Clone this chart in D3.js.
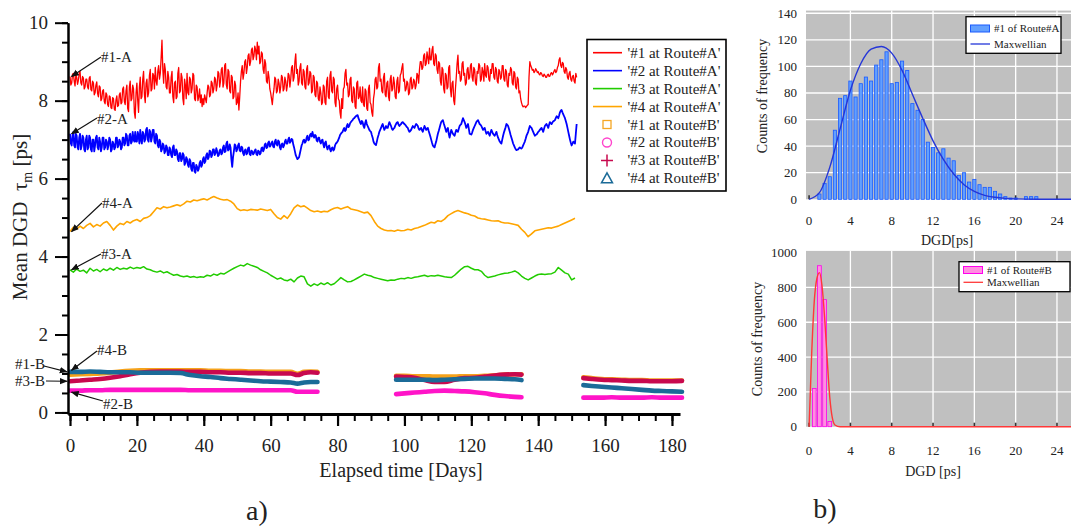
<!DOCTYPE html>
<html><head><meta charset="utf-8">
<script src="https://cdn.jsdelivr.net/npm/d3@7"></script>
<style>
body{margin:0;background:#fff}
svg{display:block}
text{font-family:"Liberation Serif","Times New Roman",serif;fill:#222}
</style>
</head><body><svg id="c" width="1071" height="529"></svg>
<script>
// ---------- Panel a) data : Route A (continuous, day 0 .. 151.5) ----------
const stepFine = 0.25;  // red & blue sampled every quarter day
const stepCoarse = 1;   // green & orange sampled every day
const route1A = [
8.62,8.40,8.45,8.68,8.70,8.50,8.38,8.65,8.60,8.42,8.52,8.70,8.75,8.45,8.40,8.62,8.58,8.30,8.35,8.55,
8.55,8.35,8.30,8.58,8.62,8.28,8.25,8.50,8.45,8.15,8.20,8.40,8.48,8.18,8.10,8.38,8.35,8.00,8.05,8.25,
8.28,7.98,7.92,8.20,8.15,7.90,7.85,8.12,8.10,7.82,7.80,8.08,8.05,7.78,7.75,8.02,8.12,7.85,7.88,8.15,
8.20,7.92,7.95,8.30,8.35,7.98,7.90,8.25,8.40,7.80,7.72,8.35,8.50,8.00,8.05,8.40,8.30,7.70,7.55,8.20,
8.45,8.00,7.70,8.35,8.60,8.05,8.10,8.55,8.75,8.15,7.95,8.45,8.55,8.10,8.20,8.65,8.80,8.25,8.30,8.70,
8.65,8.30,8.85,8.50,8.40,8.75,8.90,8.55,8.70,9.10,9.55,8.80,8.45,8.95,8.80,8.35,8.30,8.75,8.60,8.20,
8.20,8.60,8.75,8.10,7.95,8.45,8.50,8.05,8.10,8.70,8.85,8.20,8.25,8.70,8.60,8.05,7.90,8.55,8.40,8.05,
8.70,8.20,8.15,8.60,8.55,8.20,8.30,8.70,8.65,8.05,8.00,8.40,8.35,8.00,8.10,8.30,7.95,8.15,7.85,8.05,
7.90,8.15,8.05,7.95,8.20,8.40,8.35,8.10,8.15,8.50,8.45,8.20,8.30,8.60,8.55,8.25,8.40,8.75,8.70,8.35,
8.50,8.80,8.85,8.35,8.45,8.90,8.95,8.40,8.30,8.80,8.75,8.25,8.20,8.65,8.60,8.05,8.10,8.50,8.40,7.90,
7.95,8.20,7.76,8.10,8.50,8.75,8.90,8.55,8.70,9.00,9.05,8.70,8.85,9.15,9.20,8.90,9.00,9.30,9.35,9.05,
9.15,9.40,9.30,9.05,9.50,9.20,9.40,8.95,9.00,9.25,9.20,8.80,8.70,9.05,8.95,8.50,8.45,8.75,8.60,8.30,
8.20,8.05,7.90,8.15,8.30,8.60,8.55,8.20,8.25,8.55,8.45,8.20,8.35,8.65,8.60,8.25,8.30,8.60,8.50,8.25,
8.40,8.70,8.65,8.35,8.55,8.85,8.90,8.50,8.60,9.00,9.20,8.70,8.80,8.40,8.50,8.85,8.95,8.45,8.40,8.80,
8.75,8.35,8.30,8.80,8.90,8.40,8.45,8.75,8.70,8.20,8.25,8.65,8.60,8.15,8.10,8.50,8.45,8.05,8.00,8.35,
8.20,7.90,7.95,8.40,8.35,7.95,7.90,8.50,8.60,8.10,8.05,8.65,8.75,8.25,8.20,8.60,8.55,7.95,7.85,8.30,
8.40,8.05,8.00,7.70,7.55,8.05,7.80,8.30,8.35,8.70,8.80,8.40,8.45,8.10,8.15,8.55,8.60,8.00,7.95,8.35,
8.30,7.85,7.80,8.45,8.50,8.05,8.10,8.35,8.00,7.95,8.35,7.90,7.85,8.30,8.25,7.80,7.75,8.30,8.40,7.95,
7.90,7.70,7.60,8.05,8.20,8.55,8.60,8.30,8.35,8.85,8.95,8.50,8.55,8.25,8.20,8.60,8.70,8.15,8.10,8.45,
8.50,8.10,8.00,8.55,8.65,8.25,8.30,8.60,8.45,8.10,8.05,8.50,8.60,8.20,8.25,8.65,8.70,8.85,8.95,8.50,
8.55,8.25,8.30,8.50,8.45,8.15,8.20,8.55,8.60,8.30,8.35,8.55,8.50,8.30,8.40,8.70,8.65,8.45,8.80,9.00,
9.00,8.80,8.85,9.15,9.20,8.90,8.95,9.25,9.10,8.95,9.35,9.05,9.05,9.30,9.39,8.95,8.90,9.20,9.15,8.80,
8.70,9.00,8.95,8.50,8.40,8.85,8.80,8.30,8.20,8.70,8.65,8.30,8.35,8.85,8.90,8.30,8.10,8.45,8.50,8.00,
7.90,8.30,8.60,8.95,9.17,8.70,8.75,8.50,8.55,8.95,9.00,8.65,8.70,8.40,8.45,8.80,8.85,8.55,8.60,8.90,
8.95,8.60,8.50,8.85,8.80,8.45,8.40,8.75,8.70,8.95,8.90,8.50,8.55,8.85,8.75,8.50,8.95,8.65,8.60,8.90,
8.85,8.55,8.50,8.80,8.70,8.95,8.95,8.60,8.55,8.85,8.80,8.50,8.45,8.80,8.75,8.55,8.60,8.90,8.90,8.55,
8.50,8.80,8.75,8.40,8.35,8.70,8.65,8.85,8.80,8.45,8.40,8.75,8.70,8.35,8.30,8.60,8.55,8.20,8.25,8.05,
7.95,7.88,7.84,7.86,7.86,7.82,7.85,7.88,7.90,8.60,9.00,8.90,8.85,8.78,8.80,8.72,8.75,8.82,8.78,8.72,
8.74,8.68,8.66,8.72,8.70,8.64,8.62,8.68,8.65,8.60,8.60,8.66,8.68,8.62,8.63,8.70,8.72,8.66,8.70,8.76,
8.80,8.72,8.75,8.85,8.90,9.05,9.10,8.90,8.85,8.98,8.95,8.75,8.70,8.85,8.80,8.60,8.55,8.70,8.75,8.55,
8.50,8.62,8.65,8.50,8.45,8.70,8.60];
const route2A = [
7.15,6.90,6.85,7.10,7.20,6.85,6.80,7.15,7.10,6.80,6.75,7.05,7.15,6.75,6.85,7.10,7.05,6.75,6.70,7.00,
7.10,6.75,6.80,7.10,7.05,6.75,6.70,7.00,7.00,6.70,6.85,7.05,7.10,6.80,6.75,7.05,6.95,6.70,6.80,7.05,
7.05,6.75,6.80,7.00,6.95,6.75,6.85,7.05,7.00,6.70,6.75,6.95,6.90,6.75,6.80,7.05,7.05,6.80,6.85,7.00,
6.95,6.75,6.80,7.05,7.05,6.85,6.90,7.15,7.10,6.85,6.85,7.10,7.15,6.90,6.95,7.20,7.00,6.95,7.20,6.95,
6.95,7.20,7.10,6.90,7.25,7.00,6.90,7.20,7.15,6.95,7.00,7.25,7.30,7.00,6.95,7.25,7.20,6.95,7.05,7.25,
7.25,6.95,6.90,7.15,7.10,6.85,6.80,7.00,6.95,6.70,6.75,6.90,6.85,6.65,6.70,6.85,6.80,6.60,6.60,6.80,
6.75,6.60,6.55,6.80,6.85,6.60,6.60,6.75,6.70,6.50,6.45,6.65,6.65,6.45,6.50,6.65,6.60,6.35,6.40,6.55,
6.50,6.35,6.30,6.50,6.45,6.25,6.20,6.40,6.40,6.18,6.15,6.35,6.30,6.20,6.25,6.40,6.45,6.30,6.35,6.50,
6.55,6.40,6.45,6.60,6.65,6.50,6.55,6.72,6.70,6.55,6.60,6.75,6.75,6.60,6.65,6.78,6.70,6.58,6.60,6.72,
6.75,6.62,6.65,6.80,6.85,6.68,6.70,6.90,6.95,6.72,6.75,6.88,6.80,6.50,6.30,6.55,6.70,6.88,6.85,6.70,
6.75,6.85,6.90,6.72,6.70,6.82,6.80,6.65,6.60,6.72,6.75,6.62,6.65,6.78,6.80,6.62,6.60,6.72,6.70,6.62,
6.65,6.72,6.75,6.62,6.60,6.72,6.70,6.62,6.65,6.78,6.80,6.70,6.75,6.88,6.90,6.78,6.80,6.92,6.95,6.82,
6.85,6.92,6.95,6.82,6.80,6.95,7.00,6.88,6.85,6.98,6.95,6.80,6.75,6.88,6.90,6.80,6.85,6.95,7.00,6.90,
6.90,7.00,7.05,6.92,6.95,7.02,7.00,6.88,6.80,6.70,6.60,6.55,6.50,6.52,6.55,6.65,6.75,6.85,6.90,6.98,
7.00,6.92,6.95,7.05,7.10,6.98,7.00,7.12,7.15,7.08,7.20,7.10,7.05,7.12,7.10,6.98,6.95,7.05,7.05,6.95,
6.90,6.98,7.00,6.88,6.80,6.92,6.95,6.82,6.75,6.82,6.85,6.75,6.70,6.78,6.80,6.72,6.75,6.85,6.90,6.92,
6.95,7.00,7.05,7.12,7.15,7.18,7.20,7.26,7.30,7.22,7.25,7.35,7.40,7.32,7.35,7.42,7.45,7.48,7.50,7.54,
7.55,7.58,7.60,7.62,7.63,7.55,7.50,7.44,7.40,7.48,7.45,7.35,7.30,7.42,7.50,7.40,7.35,7.30,7.25,7.22,
7.20,7.12,7.05,6.95,6.90,6.88,6.86,6.95,7.05,7.12,7.20,7.25,7.30,7.36,7.40,7.32,7.25,7.30,7.35,7.30,
7.30,7.38,7.45,7.40,7.35,7.28,7.25,7.28,7.30,7.36,7.40,7.44,7.45,7.38,7.35,7.38,7.40,7.44,7.45,7.42,
7.40,7.38,7.35,7.32,7.30,7.24,7.20,7.22,7.25,7.30,7.35,7.32,7.30,7.36,7.40,7.38,7.35,7.28,7.25,7.28,
7.30,7.24,7.20,7.28,7.35,7.30,7.25,7.28,7.30,7.22,7.15,7.08,7.00,6.92,6.85,6.82,6.80,6.88,6.95,7.05,
7.15,7.22,7.30,7.38,7.45,7.48,7.50,7.42,7.35,7.28,7.20,7.26,7.30,7.15,7.05,7.15,7.25,7.20,7.15,7.12,
7.10,7.18,7.25,7.22,7.20,7.28,7.35,7.38,7.40,7.48,7.55,7.50,7.45,7.38,7.30,7.35,7.40,7.28,7.15,7.14,
7.13,7.18,7.25,7.30,7.35,7.40,7.45,7.48,7.50,7.45,7.40,7.38,7.35,7.30,7.25,7.28,7.30,7.22,7.15,7.18,
7.20,7.15,7.10,7.18,7.25,7.20,7.15,7.12,7.10,7.15,7.20,7.12,7.05,7.00,6.95,6.92,6.90,7.00,7.10,7.18,
7.25,7.32,7.40,7.38,7.35,7.28,7.20,7.12,7.05,6.98,6.90,6.85,6.80,6.76,6.73,6.74,6.75,6.78,6.80,6.78,
6.77,6.80,6.85,6.90,6.95,7.02,7.10,7.15,7.20,7.28,7.35,7.32,7.30,7.25,7.20,7.15,7.10,7.12,7.13,7.16,
7.20,7.22,7.25,7.28,7.30,7.25,7.20,7.28,7.35,7.38,7.40,7.35,7.30,7.38,7.45,7.42,7.40,7.44,7.47,7.48,
7.50,7.55,7.60,7.58,7.55,7.62,7.70,7.74,7.76,7.70,7.65,7.60,7.55,7.48,7.40,7.30,7.20,7.10,7.00,6.92,
6.85,6.90,6.95,6.92,6.90,7.15,7.40];
const route3A = [
3.66,3.60,3.68,3.62,3.65,3.58,3.70,3.63,3.67,3.61,
3.68,3.64,3.70,3.65,3.72,3.67,3.70,3.68,3.73,3.69,
3.72,3.70,3.74,3.68,3.66,3.62,3.60,3.63,3.58,3.61,
3.56,3.52,3.54,3.50,3.48,3.50,3.47,3.49,3.46,3.48,
3.47,3.52,3.50,3.55,3.52,3.57,3.55,3.60,3.65,3.70,
3.74,3.78,3.76,3.82,3.78,3.75,3.72,3.66,3.62,3.58,
3.52,3.47,3.42,3.45,3.40,3.38,3.42,3.35,3.45,3.50,
3.48,3.30,3.24,3.30,3.26,3.32,3.28,3.33,3.27,3.30,
3.38,3.46,3.40,3.35,3.36,3.40,3.45,3.50,3.55,3.52,
3.50,3.46,3.44,3.42,3.40,3.38,3.40,3.39,3.42,3.44,
3.43,3.46,3.44,3.47,3.48,3.50,3.52,3.49,3.51,3.50,
3.52,3.50,3.48,3.47,3.46,3.52,3.60,3.68,3.74,3.75,
3.70,3.66,3.66,3.62,3.52,3.46,3.48,3.50,3.53,3.55,
3.57,3.58,3.60,3.63,3.58,3.50,3.44,3.40,3.45,3.50,
3.54,3.55,3.54,3.55,3.56,3.60,3.72,3.65,3.58,3.55,
3.40,3.45];
const route4A = [
4.64,4.75,4.70,4.78,4.72,4.80,4.85,4.76,4.82,4.78,
4.86,4.90,4.80,4.68,4.78,4.85,4.82,4.90,4.86,4.92,
4.95,4.90,4.98,5.00,5.05,5.15,5.25,5.22,5.28,5.25,
5.27,5.30,5.33,5.30,5.35,5.42,5.40,5.45,5.43,5.46,
5.48,5.45,5.50,5.54,5.50,5.47,5.45,5.46,5.42,5.35,
5.23,5.18,5.20,5.18,5.21,5.20,5.19,5.22,5.20,5.18,
5.21,5.10,5.00,4.96,5.05,4.98,5.10,5.25,5.32,5.28,
5.30,5.24,5.18,5.15,5.17,5.14,5.16,5.15,5.20,5.24,
5.26,5.22,5.25,5.28,5.22,5.20,5.18,5.15,5.12,5.14,
5.05,4.90,4.78,4.72,4.68,4.66,4.67,4.65,4.68,4.66,
4.67,4.70,4.68,4.72,4.74,4.77,4.80,4.84,4.88,4.86,
4.92,4.90,4.96,5.05,5.10,5.15,5.18,5.15,5.12,5.10,
5.06,5.04,4.99,4.97,4.96,4.94,4.92,4.91,4.92,4.88,
4.86,4.86,4.84,4.82,4.80,4.70,4.62,4.51,4.58,4.66,
4.68,4.70,4.72,4.74,4.73,4.76,4.78,4.82,4.86,4.90,
4.94,4.98];

// ---------- Panel a) data : Route B (three measurement periods) ----------
const daysB = [0,3,6,9,12,15,18,21,24,27,30,33,36,39,42,45,48,51,54,57,60,63,66,68,70,72,74,
  97.5,100,103,106,109,112,115,118,121,124,127,130,133,135,
  153.5,156,159,162,165,168,171,174,177,180,183];
const route1B = [0.97,0.98,0.99,1.00,1.02,1.05,1.07,1.08,1.08,1.08,1.08,1.08,1.08,1.08,1.07,1.07,1.06,1.06,1.05,1.05,1.04,1.04,1.04,0.99,1.04,1.05,1.04,
  0.94,0.94,0.93,0.93,0.92,0.92,0.92,0.93,0.93,0.94,0.95,0.97,0.98,0.98,
  0.90,0.88,0.86,0.85,0.84,0.83,0.83,0.82,0.82,0.82,0.82];
const route2B = [0.56,0.56,0.57,0.57,0.58,0.58,0.58,0.58,0.58,0.58,0.58,0.58,0.57,0.57,0.57,0.57,0.57,0.57,0.57,0.57,0.57,0.57,0.57,0.53,0.53,0.53,0.53,
  0.47,0.49,0.51,0.53,0.55,0.56,0.55,0.54,0.52,0.49,0.45,0.42,0.40,0.39,
  0.38,0.38,0.38,0.39,0.38,0.38,0.38,0.39,0.38,0.38,0.38];
const route3B = [0.80,0.82,0.84,0.86,0.89,0.93,0.98,1.02,1.04,1.05,1.05,1.05,1.04,1.04,1.03,1.03,1.02,1.02,1.01,1.01,1.00,1.00,1.00,0.96,1.01,1.03,1.02,
  0.92,0.91,0.89,0.83,0.78,0.78,0.84,0.88,0.89,0.92,0.95,0.97,0.98,0.97,
  0.88,0.86,0.84,0.83,0.82,0.81,0.81,0.80,0.80,0.80,0.81];
const route4B = [1.04,1.04,1.05,1.04,1.03,1.03,1.03,1.02,1.02,1.02,1.02,1.01,0.96,0.93,0.91,0.88,0.86,0.84,0.82,0.80,0.79,0.78,0.77,0.74,0.77,0.78,0.78,
  0.84,0.84,0.84,0.84,0.83,0.84,0.85,0.86,0.87,0.87,0.87,0.86,0.85,0.83,
  0.70,0.68,0.66,0.64,0.62,0.60,0.58,0.56,0.55,0.54,0.53];

const yTicksA = [0,2,4,6,8,10];
const xTicksA = [0,20,40,60,80,100,120,140,160,180];
const legendLabels = ["'#1 at Route#A'","'#2 at Route#A'","'#3 at Route#A'","'#4 at Route#A'",
  "'#1 at Route#B'","'#2 at Route#B'","'#3 at Route#B'","'#4 at Route#B'"];

// ---------- Panel b) data : histograms ----------
const binsA = [1,1.5,2,2.5,3,3.5,4,4.5,5,5.5,6,6.5,7,7.5,8,8.5,9,9.5,10,10.5,11,11.5,12,12.5,13,13.5,14,14.5,15,15.5,16,16.5,17,17.5,18,18.5,19,19.5,20,20.5,21,21.5,22];
const countsA = [4,12,17,52,76,78,89,77,87,92,89,101,105,111,87,88,104,97,72,67,60,43,39,35,38,31,29,18,20,13,15,11,9,9,6,4,2,1,1,0,2,2,2];
const maxwellAx = [0,1,2,3,4,5,6,7,8,9,10,11,12,13,14,15,16,17,18,19,20,22,26];
const maxwellAy = [0,5,24,53,82,102,113,115,110,97,79,61,44,30,19,11,6,3,1.5,0.7,0.3,0,0];
const binsB = [0.5,1,1.5,2];
const countsB = [220,925,730,30];
const maxwellBx = [0,0.25,0.5,0.75,1,1.25,1.5,1.75,2,2.25,2.5,3,26];
const maxwellBy = [0,420,720,850,885,810,630,390,170,50,10,0,0];
const histXTicks = [0,4,8,12,16,20,24];
const histYTicksA = [0,20,40,60,80,100,120,140];
const histYTicksB = [0,200,400,600,800,1000];

// ================= drawing =================
const svg = d3.select('#c');
const SERIF = '"Liberation Serif","Times New Roman",serif';

svg.append('defs').append('marker')
  .attr('id','ah').attr('viewBox','0 0 10 10').attr('refX',9).attr('refY',5)
  .attr('markerWidth',8).attr('markerHeight',8).attr('markerUnits','userSpaceOnUse')
  .attr('orient','auto')
  .append('path').attr('d','M0,1L10,5L0,9z').attr('fill','#111');

// ---- panel a ----
const x = d3.scaleLinear().domain([-0.6,182.4]).range([68,680]);
const y = d3.scaleLinear().domain([-0.04,10]).range([414,22.7]);

const colA = ['#ff0000','#0000ff','#22cc00','#ffa500'];
const seriesA = [[route1A,stepFine,colA[0],1.3],[route2A,stepFine,colA[1],1.8],[route3A,stepCoarse,colA[2],1.5],[route4A,stepCoarse,colA[3],1.6]];
seriesA.forEach(([vals,step,col,w])=>{
  svg.append('path').datum(vals)
    .attr('fill','none').attr('stroke',col).attr('stroke-width',w).attr('stroke-linejoin','round')
    .attr('d',d3.line().x((d,i)=>x(i*step)).y(d=>y(d)));
});

// Route B : dense markers drawn as thick bands, split at measurement gaps
function segments(vals){
  const segs=[]; let cur=[];
  daysB.forEach((d,i)=>{
    if(i>0 && d-daysB[i-1]>10){segs.push(cur);cur=[];}
    cur.push([d,vals[i]]);
  });
  segs.push(cur); return segs;
}
const colB = ['#f5a21b','#ff14c8','#c8094e','#1b6b98'];
const orderB = [[route1B,colB[0]],[route2B,colB[1]],[route3B,colB[2]],[route4B,colB[3]]];
orderB.forEach(([vals,col])=>{
  segments(vals).forEach(seg=>{
    svg.append('path').datum(seg)
      .attr('fill','none').attr('stroke',col).attr('stroke-width',4.6).attr('stroke-linecap','round')
      .attr('d',d3.line().x(d=>x(d[0])).y(d=>y(d[1])).curve(d3.curveMonotoneX));
  });
});

// axes
const gy = svg.append('g').attr('transform','translate(68,0)');
gy.call(d3.axisLeft(y).tickValues(d3.range(0,10.01,0.5)).tickSize(6).tickSizeOuter(0).tickFormat(''));
gy.call(g=>g.selectAll('.tick line').attr('stroke-width',2));
const gy2 = svg.append('g').attr('transform','translate(68,0)');
gy2.call(d3.axisLeft(y).tickValues(yTicksA).tickSize(13).tickPadding(7).tickSizeOuter(0).tickFormat(d3.format('d')));
gy2.select('.domain').attr('stroke-width',2.5);
gy2.selectAll('.tick line').attr('stroke-width',2);
gy2.selectAll('text').attr('font-family',SERIF).attr('font-size',19).attr('fill','#222');

const gx = svg.append('g').attr('transform','translate(0,414)');
gx.call(d3.axisBottom(x).tickValues(d3.range(0,181,5)).tickSize(7).tickSizeOuter(0).tickFormat(''));
gx.selectAll('.tick line').attr('stroke-width',2);
gx.select('.domain').attr('stroke-width',3);
const gx2 = svg.append('g').attr('transform','translate(0,414)');
gx2.call(d3.axisBottom(x).tickValues(xTicksA).tickSize(12).tickPadding(13).tickSizeOuter(0));
gx2.select('.domain').remove();
gx2.selectAll('.tick line').attr('stroke-width',2.2);
gx2.selectAll('text').attr('font-family',SERIF).attr('font-size',19).attr('fill','#222');

svg.append('text').attr('x',401).attr('y',477).attr('text-anchor','middle').attr('font-size',20).text('Elapsed time [Days]');
const yl = svg.append('text').attr('transform','translate(27,217) rotate(-90)').attr('text-anchor','middle').attr('font-size',21);
yl.append('tspan').text('Mean DGD\u00a0\u00a0\u03c4');
yl.append('tspan').attr('font-size',14).attr('dy',5).text('m');
yl.append('tspan').attr('dy',-5).text(' [ps]');

// annotations
const annos = [
  {t:'#1-A', tx:101, ty:62, lx:101, ly:57, day:0, v:route1A[0], dx:1.5},
  {t:'#2-A', tx:97,  ty:124, lx:97, ly:118, day:0, v:route2A[0], dx:1.5},
  {t:'#4-A', tx:102, ty:208, lx:102, ly:203, day:0, v:route4A[0], dx:1.5},
  {t:'#3-A', tx:101, ty:259, lx:101, ly:254, day:0, v:route3A[0], dx:1.5},
  {t:'#4-B', tx:97,  ty:355, lx:97, ly:351, day:0, v:route4B[0]+0.04, dx:1.5},
  {t:'#2-B', tx:103, ty:409, lx:103, ly:401, day:0, v:route2B[0]-0.04, dx:1.5},
  {t:'#1-B', tx:15,  ty:369, lx:44, ly:366, day:0, v:route4B[0], dx:-3},
  {t:'#3-B', tx:15,  ty:386, lx:46, ly:381, day:0, v:route3B[0], dx:-3}
];
annos.forEach(a=>{
  svg.append('text').attr('x',a.tx).attr('y',a.ty).attr('font-size',15).attr('fill','#333').text(a.t);
  svg.append('line').attr('x1',a.lx).attr('y1',a.ly).attr('x2',x(a.day)+a.dx).attr('y2',y(a.v))
    .attr('stroke','#111').attr('stroke-width',1.2).attr('marker-end','url(#ah)');
});

// legend
const lg = svg.append('g');
lg.append('rect').attr('x',587).attr('y',39.5).attr('width',139).attr('height',151.5)
  .attr('fill','#fff').attr('stroke','#000').attr('stroke-width',1.6);
legendLabels.forEach((lab,i)=>{
  const cy = 52.7 + i*17.95;
  if(i<4){
    lg.append('line').attr('x1',593).attr('x2',622).attr('y1',cy).attr('y2',cy).attr('stroke',colA[i]).attr('stroke-width',1.6);
  } else if(i===4){
    lg.append('rect').attr('x',603).attr('y',cy-4).attr('width',8).attr('height',8).attr('fill','none').attr('stroke','#f5a623').attr('stroke-width',1.3);
  } else if(i===5){
    lg.append('circle').attr('cx',607).attr('cy',cy).attr('r',4.5).attr('fill','none').attr('stroke','#ff44cc').attr('stroke-width',1.4);
  } else if(i===6){
    lg.append('path').attr('d',`M601,${cy}H613M607,${cy-6}V${cy+6}`).attr('stroke','#c8094e').attr('stroke-width',1.5);
  } else {
    lg.append('path').attr('d',`M607,${cy-5.5}L612.5,${cy+4.5}H601.5Z`).attr('fill','none').attr('stroke','#1b6b98').attr('stroke-width',1.5);
  }
  lg.append('text').attr('x',627.5).attr('y',cy+5).attr('font-size',15).attr('fill','#222').text(lab);
});

svg.append('text').attr('x',257).attr('y',520).attr('text-anchor','middle').attr('font-size',28).attr('fill','#111').text('a)');
svg.append('text').attr('x',825).attr('y',518).attr('text-anchor','middle').attr('font-size',28).attr('fill','#111').text('b)');

// ---- panel b ----
const hx = d3.scaleLinear().domain([-0.3,25.9]).range([806,1076.6]);
function hist(cfg){
  const {yScale, yTicks, bins, counts, mx, my, fill, stroke, lineCol, legendText, ylabX, ylabY, xlabY, xlabX, xlabText, tickLabY, leg, bw} = cfg;
  const g = svg.append('g');
  const y0 = yScale(0), yTop = yScale.range()[1];
  g.append('rect').attr('x',hx(-0.3)).attr('y',yTop).attr('width',1071-hx(-0.3)).attr('height',y0-yTop).attr('fill','#c0c0c0');
  yTicks.filter(t=>t>0 && yScale(t)>yTop+2).forEach(t=>{
    g.append('line').attr('x1',hx(-0.3)).attr('x2',1071).attr('y1',yScale(t)).attr('y2',yScale(t)).attr('stroke','#fff').attr('stroke-width',1.3);
  });
  histXTicks.filter(t=>t>0).forEach(t=>{
    g.append('line').attr('x1',hx(t)).attr('x2',hx(t)).attr('y1',yTop).attr('y2',y0).attr('stroke','#fff').attr('stroke-width',1.3);
  });
  histXTicks.forEach(t=>{
    g.append('line').attr('x1',hx(t)).attr('x2',hx(t)).attr('y1',y0-4).attr('y2',y0).attr('stroke','#333').attr('stroke-width',1.6);
  });
  g.selectAll('rect.bar').data(bins).join('rect').attr('class','bar')
    .attr('x',d=>hx(d-bw/2)).attr('width',hx(bw)-hx(0))
    .attr('y',(d,i)=>yScale(counts[i])).attr('height',(d,i)=>y0-yScale(counts[i]))
    .attr('fill',fill).attr('stroke',stroke).attr('stroke-width',0.8);
  g.append('path').datum(mx.map((v,i)=>[v,my[i]]))
    .attr('fill','none').attr('stroke',lineCol).attr('stroke-width',1.4)
    .attr('d',d3.line().x(d=>hx(d[0])).y(d=>yScale(d[1])).curve(d3.curveMonotoneX));
  yTicks.forEach(t=>{
    g.append('text').attr('x',797).attr('y',yScale(t)+4.5).attr('text-anchor','end').attr('font-size',13).attr('fill','#222').text(t);
  });
  histXTicks.forEach(t=>{
    g.append('text').attr('x',hx(t)).attr('y',tickLabY).attr('text-anchor','middle').attr('font-size',13).attr('fill','#222').text(t);
  });
  g.append('text').attr('x',xlabX).attr('y',xlabY).attr('text-anchor','middle').attr('font-size',14).text(xlabText);
  g.append('text').attr('transform',`translate(${ylabX},${ylabY}) rotate(-90)`).attr('text-anchor','middle').attr('font-size',14).text('Counts of frequency');
  // legend
  g.append('rect').attr('x',leg.x).attr('y',leg.y).attr('width',leg.w).attr('height',leg.h).attr('fill','#fff').attr('stroke','#000').attr('stroke-width',1.3);
  g.append('rect').attr('x',leg.x+4.5).attr('y',leg.r1-3.5).attr('width',19).attr('height',7).attr('fill',fill).attr('stroke',stroke).attr('stroke-width',1);
  g.append('line').attr('x1',leg.x+4.5).attr('x2',leg.x+24).attr('y1',leg.r2).attr('y2',leg.r2).attr('stroke',lineCol).attr('stroke-width',1.3);
  g.append('text').attr('x',leg.x+28).attr('y',leg.r1+3.8).attr('font-size',11).text(legendText);
  g.append('text').attr('x',leg.x+28).attr('y',leg.r2+3.8).attr('font-size',11).text('Maxwellian');
}
hist({yScale:d3.scaleLinear().domain([0,142]).range([199.3,10.6]), yTicks:histYTicksA, bins:binsA, counts:countsA,
  mx:maxwellAx, my:maxwellAy, fill:'#62a0ff', stroke:'#1a5aff', lineCol:'#2536d8', legendText:'#1 of Route#A',
  ylabX:767, ylabY:96, xlabX:947, xlabY:245, xlabText:'DGD[ps]', tickLabY:225, bw:0.31,
  leg:{x:966,y:16.7,w:95,h:36.6,r1:28.5,r2:44}});
hist({yScale:d3.scaleLinear().domain([0,1010]).range([426.7,250.9]), yTicks:histYTicksB, bins:binsB, counts:countsB,
  mx:maxwellBx, my:maxwellBy, fill:'#ff8fe0', stroke:'#ff00ee', lineCol:'#ff3838', legendText:'#1 of Route#B',
  ylabX:762, ylabY:339, xlabX:933, xlabY:476, xlabText:'DGD [ps]', tickLabY:455, bw:0.36,
  leg:{x:959,y:261.7,w:111,h:30,r1:270,r2:282.3}});
</script>
</body></html>
